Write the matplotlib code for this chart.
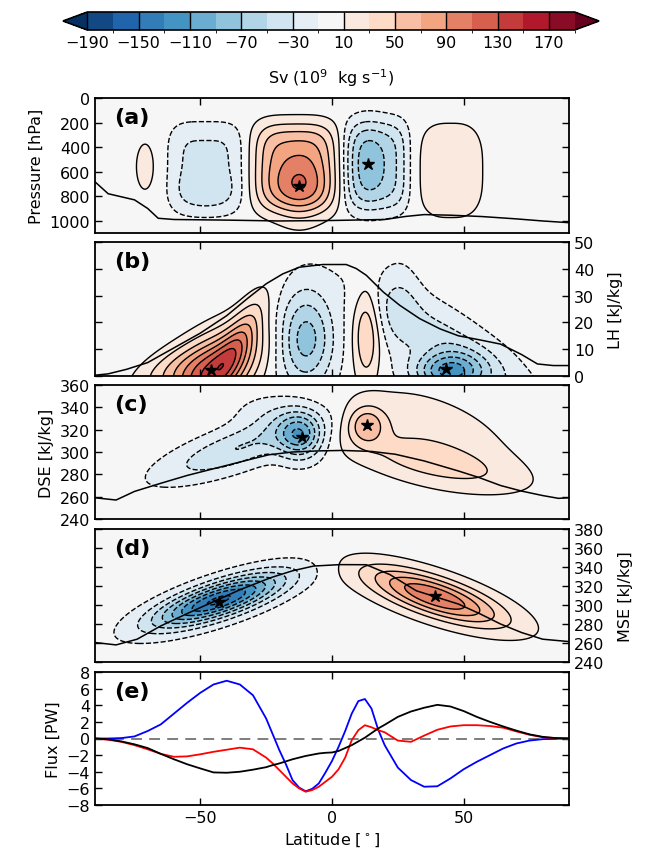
import numpy as np
import matplotlib
matplotlib.use("Agg")
import matplotlib.pyplot as plt
from matplotlib.colors import ListedColormap, BoundaryNorm

plt.rcParams['font.family'] = 'DejaVu Sans'
plt.rcParams['font.size'] = 11.5
plt.rcParams['contour.negative_linestyle'] = 'dashed'

# colour levels of the streamfunction (Sv)
levels = np.arange(-190, 191, 20)
cbar_ticks = np.arange(-190, 171, 40)

# overturning cells:
# (lat0, y0, width in lat, width in y, amplitude, tilt dy/dlat, shape power)
cells_a = [(-71, 560, 3.0, 170, 18, 0, 2),
           (-48, 570, 11.5, 300, -35, 0, 4),
           (-48, 780, 7, 110, -15, 0, 2),
           (-14, 560, 13, 300, 70, 0, 4),
           (-12.5, 720, 7, 200, 45, 0, 2),
           (17, 555, 10, 310, -55, 0, 4),
           (14, 540, 5, 220, -30, 0, 2),
           (45, 590, 10.5, 330, 22, 0, 3)]
cells_b = [(-46, 1, 12, 9, 130, 0.5, 2),
           (-35, 14, 7, 7, 45, 1.3, 2),
           (-62, 3, 10, 5, 25, 0.4, 2),
           (-10, 14, 7.5, 13, -80, 0, 2),
           (13, 16, 3.5, 13, 50, 0, 2),
           (44, 1.5, 9, 5, -100, 0, 2),
           (45, 11, 22, 9, -40, -0.6, 2),
           (26, 25, 5, 12, -20, 0, 2)]
cells_c = [(-12, 314, 6, 14, -90, 0, 2),
           (-35, 304, 20, 13, -50, 0.75, 2),
           (-22, 335, 10, 12, -20, 0, 2),
           (13, 324, 5, 12, 55, 0, 2),
           (40, 290, 20, 12, 30, -0.45, 2),
           (35, 315, 24, 28, 22, -0.6, 2)]
cells_d = [(-43, 305, 17, 13, -155, 0.85, 2),
           (39, 309, 18, 14.6, 110, -0.85, 2)]

# maxima / minima marked with stars
stars_a = [(-12.5, 720), (13.7, 541)]
stars_b = [(-46, 2.3), (43.3, 2.5)]
stars_c = [(-11.4, 313), (13.3, 324)]
stars_d = [(-43, 302.7), (39.2, 309.6)]

# surface / envelope lines
surf_a_lat = [-90, -85, -80, -75, -70, -66, -60, -40, -20, 0, 20, 28, 35, 45, 57, 70, 80, 90]
surf_a_p = [683, 780, 805, 830, 900, 980, 990, 995, 1002, 998, 990, 965, 950, 955, 966, 985, 1002, 1016]
env_b_lat = [-90, -85, -78, -70, -60, -50, -40, -32, -25, -18.7, -12.4, -3.5, 5.4, 9.2, 13, 19.4,
             25.7, 33.3, 41, 48, 56, 64, 72, 78, 84, 90]
env_b_lh = [0.3, 0.8, 2.5, 5, 10.5, 16, 22.5, 29, 34.4, 38.1, 40.6, 41.6, 41.6, 40.1, 37.6, 31.4,
            26.4, 21.4, 17.6, 15, 13.5, 11.9, 8, 4.5, 3.9, 3.9]
surf_c_lat = [-90, -82, -75, -65, -55, -49, -40, -30, -24, -15, -5, 4, 15, 24, 35, 48, 56, 64, 72, 80, 86, 90]
surf_c_dse = [259, 257, 264.7, 272, 279, 282.6, 288, 294, 297.5, 300, 301, 301.4, 300.5, 298, 292, 283,
              277, 270, 265, 261, 258.5, 259]
surf_d_lat = [-90, -82, -74, -65, -55, -47, -35, -23, -15, -7, 3, 13, 22, 32, 40, 48, 56, 64, 72, 80, 90]
surf_d_mse = [260.5, 258, 264, 278, 291, 301, 316, 329, 336, 341, 342.5, 342.4, 332, 315, 308, 301,
              291, 280, 271, 264, 261.5]

# energy fluxes (PW)
flux_lat = [-90, -85, -80, -75, -70, -65, -60, -55, -50, -45, -40, -35, -30, -25,
            -22.5, -20, -17.5, -15, -12.5, -10, -7.5, -5, -2.5, 0, 2.5, 5, 7.5, 10, 12.5, 15, 17.5, 20,
            25, 30, 35, 40, 45, 50, 55, 60, 65, 70, 75, 80, 85, 90]
flux_blue = [0, 0, 0.05, 0.25, 0.9, 1.7, 3.0, 4.3, 5.5, 6.5, 6.95, 6.5, 5.2, 2.4,
             0.5, -1.4, -3.1, -5.0, -5.9, -6.35, -6.05, -5.4, -4.1, -2.7, -1.0, 0.9, 3.0, 4.5, 4.75, 3.6, 1.1, -0.8,
             -3.5, -5.0, -5.8, -5.75, -4.8, -3.7, -2.8, -2.0, -1.2, -0.6, -0.25, -0.08, -0.02, 0]
flux_red = [0, -0.15, -0.4, -0.8, -1.3, -1.85, -2.2, -2.15, -1.9, -1.6, -1.35, -1.1, -1.3, -2.3,
            -3.0, -3.8, -4.6, -5.4, -6.0, -6.4, -6.2, -5.8, -5.2, -4.6, -3.7, -2.3, -0.2, 1.0, 1.6, 1.35, 1.0, 0.75,
            -0.25, -0.4, 0.35, 1.05, 1.45, 1.6, 1.6, 1.5, 1.3, 0.85, 0.45, 0.15, 0.04, 0]
flux_black = [0, -0.1, -0.35, -0.7, -1.15, -1.85, -2.5, -3.1, -3.6, -4.08, -4.12, -4.0, -3.75, -3.45,
              -3.2, -3.0, -2.75, -2.5, -2.3, -2.1, -1.95, -1.8, -1.72, -1.68, -1.5, -1.15, -0.8, -0.35, 0.1, 0.65, 1.2, 1.65,
              2.6, 3.25, 3.7, 4.05, 3.85, 3.3, 2.6, 2.0, 1.45, 0.95, 0.5, 0.2, 0.05, 0]


def field(lat, yy, cells):
    X, Y = np.meshgrid(lat, yy)
    Z = np.zeros_like(X)
    for x0, y0, sx, sy, amp, slope, pw in cells:
        dx = (X - x0) / sx
        dy = (Y - y0 - slope * (X - x0)) / sy
        Z += amp * np.exp(-0.5 * (np.abs(dx) ** pw + np.abs(dy) ** pw))
    return X, Y, Z


W, H = 648, 862
fig = plt.figure(figsize=(W / 100, H / 100), dpi=100)

# RdBu_r split into 21 colours, the two ends used for the extensions
base = plt.get_cmap('RdBu_r')(np.linspace(0, 1, 21))
cmap = ListedColormap(base[1:-1])
cmap.set_under(base[0])
cmap.set_over(base[-1])
norm = BoundaryNorm(levels, cmap.N)


def panel(top, bottom):
    ax = fig.add_axes([95 / W, 1 - bottom / H, 474 / W, (bottom - top) / H])
    ax.set_facecolor(base[10])
    ax.set_xlim(-90, 90)
    ax.set_xticks([-50, 0, 50])
    ax.tick_params(direction='in', top=True, right=True, length=5, width=1)
    for s in ax.spines.values():
        s.set_linewidth(1.3)
    return ax


lat = np.linspace(-90, 90, 361)
panels = [
    ('(a)', 99, 234, np.linspace(0, 1100, 221), cells_a, stars_a),
    ('(b)', 243, 377, np.linspace(0, 50, 201), cells_b, stars_b),
    ('(c)', 386, 520, np.linspace(240, 360, 241), cells_c, stars_c),
    ('(d)', 530, 663, np.linspace(240, 380, 281), cells_d, stars_d),
]
axes = []
cf0 = None
for name, top, bottom, yy, cells, stars in panels:
    ax = panel(top, bottom)
    X, Y, Z = field(lat, yy, cells)
    cf = ax.contourf(X, Y, Z, levels=levels, cmap=cmap, norm=norm, extend='both')
    ax.contour(X, Y, Z, levels=levels, colors='k', linewidths=1.0)
    for sx_, sy_ in stars:
        ax.plot(sx_, sy_, marker='*', color='k', ms=9, ls='none')
    ax.text(0.04, 0.93, name, transform=ax.transAxes, fontsize=16, fontweight='bold',
            va='top', ha='left')
    ax.set_xticklabels([])
    if cf0 is None:
        cf0 = cf
    axes.append(ax)

ax_a, ax_b, ax_c, ax_d = axes
ax_a.plot(surf_a_lat, surf_a_p, color='k', lw=1.1)
ax_a.set_ylim(1100, 0)
ax_a.set_yticks(np.arange(0, 1001, 200))
ax_a.set_ylabel('Pressure [hPa]')

ax_b.plot(env_b_lat, env_b_lh, color='k', lw=1.1)
ax_b.set_ylim(0, 50)
ax_b.set_yticks(np.arange(0, 51, 10))
ax_b.yaxis.tick_right()
ax_b.tick_params(left=True, labelleft=False, labelright=True)
ax_b.yaxis.set_label_position('right')
ax_b.set_ylabel('LH [kJ/kg]', labelpad=10)

ax_c.plot(surf_c_lat, surf_c_dse, color='k', lw=1.1)
ax_c.set_ylim(240, 360)
ax_c.set_yticks(np.arange(240, 361, 20))
ax_c.set_ylabel('DSE [kJ/kg]')

ax_d.plot(surf_d_lat, surf_d_mse, color='k', lw=1.1)
ax_d.set_ylim(240, 380)
ax_d.set_yticks(np.arange(240, 381, 20))
ax_d.yaxis.tick_right()
ax_d.tick_params(left=True, labelleft=False, labelright=True)
ax_d.yaxis.set_label_position('right')
ax_d.set_ylabel('MSE [kJ/kg]', labelpad=10)

ax_e = panel(673, 806)
ax_e.set_facecolor('white')
ax_e.axhline(0, color='0.45', ls='--', lw=1.3, dashes=(6, 4))
ax_e.plot(flux_lat, flux_blue, color='b', lw=1.3)
ax_e.plot(flux_lat, flux_red, color='r', lw=1.3)
ax_e.plot(flux_lat, flux_black, color='k', lw=1.3)
ax_e.set_ylim(-8, 8)
ax_e.set_yticks(np.arange(-8, 9, 2))
ax_e.set_ylabel('Flux [PW]')
ax_e.set_xlabel('Latitude [$^\\circ$]')
ax_e.text(0.04, 0.93, '(e)', transform=ax_e.transAxes, fontsize=16, fontweight='bold',
          va='top', ha='left')

cax = fig.add_axes([63 / W, 1 - 31 / H, 536 / W, 18 / H])
cb = fig.colorbar(cf0, cax=cax, orientation='horizontal', ticks=cbar_ticks, extend='both')
cb.ax.tick_params(direction='in', length=13, width=1)
cb.outline.set_linewidth(1.2)
cb.set_label('Sv ($10^9$  kg s$^{-1}$)', labelpad=12)

fig.savefig('out.png', dpi=100)
